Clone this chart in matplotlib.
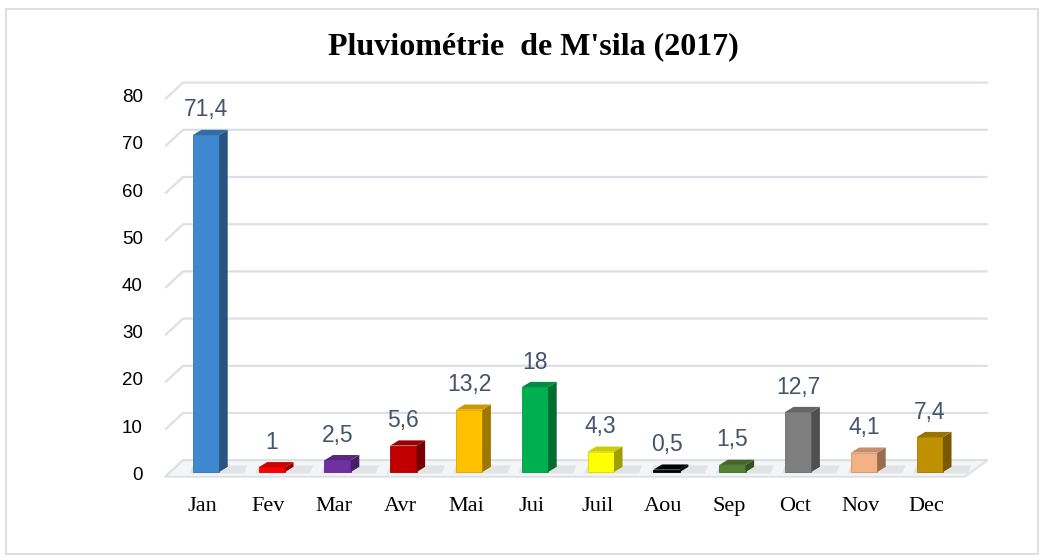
import numpy as np
import matplotlib
matplotlib.use('Agg')
import matplotlib.pyplot as plt
from matplotlib.patches import Polygon, Rectangle
from matplotlib.colors import to_rgb

months = ['Jan', 'Fev', 'Mar', 'Avr', 'Mai', 'Jui', 'Juil', 'Aou', 'Sep', 'Oct', 'Nov', 'Dec']
rain = [71.4, 1, 2.5, 5.6, 13.2, 18, 4.3, 0.5, 1.5, 12.7, 4.1, 7.4]
labels = ['71,4', '1', '2,5', '5,6', '13,2', '18', '4,3', '0,5', '1,5', '12,7', '4,1', '7,4']
colors = ['#3F88CF', '#FF0000', '#7030A0', '#C00000', '#FFC000', '#00B050',
          '#FFFF00', '#000000', '#548235', '#7F7F7F', '#F4B183', '#BF9000']
yticks = [0, 10, 20, 30, 40, 50, 60, 70, 80]

W, H = 1042, 560
fig = plt.figure(figsize=(W / 100, H / 100), dpi=100)
# light frame around the chart
fig.patches.append(Rectangle((6 / W, 6 / H), 1032 / W, 545 / H, transform=fig.transFigure,
                             fill=False, ec='#D9D9D9', lw=1.2))

ax = fig.add_axes([100 / W, 70 / H, 900 / W, 420 / H])
ax.set_xlim(-1.611, 12.067)
ax.set_ylim(-3.81, 85.17)
ax.axis('off')

# pseudo-3D geometry (data units)
wall_dx, wall_dy = 0.27, 3.5      # floor/back-wall depth
front_y = -1.0                    # front edge of the floor
x_left, x_right = -0.62, 11.53
bw = 0.4                          # bar width
bdx, bdy = 0.13, 1.1              # bar depth

# back-wall gridlines with left-wall diagonals
for v in yticks:
    y0 = v + front_y
    ax.plot([x_left, x_left + wall_dx, x_right + wall_dx + 0.08],
            [y0, y0 + wall_dy, y0 + wall_dy], color='#DCE0E6', lw=1.6, zorder=1,
            solid_capstyle='butt')
    ax.text(x_left - 0.34, y0 + 0.3, str(v), ha='right', va='center', fontsize=13.5,
            family='Liberation Sans', color='#000000')

# floor
floor = Polygon([(x_left, front_y), (x_right, front_y),
                 (x_right + wall_dx + 0.08, front_y + wall_dy), (x_left + wall_dx, front_y + wall_dy)],
                closed=True, fc='#F4F5F7', ec='#DCE0E6', lw=1.4, zorder=1.5)
ax.add_patch(floor)

def shade(c, f):
    r, g, b = to_rgb(c)
    return (r * f, g * f, b * f)

for i, (v, c, lab) in enumerate(zip(rain, colors, labels)):
    x0, x1 = i - bw / 2, i + bw / 2
    # soft shadow on the floor
    ax.add_patch(Polygon([(x0 - 0.05, -0.3), (x1 + bdx + 0.25, -0.3),
                          (x1 + bdx + 0.3, bdy + 0.3), (x0, bdy + 0.3)],
                         closed=True, fc='#D5D7DA', ec='none', alpha=0.6, zorder=2))
    ax.add_patch(Rectangle((x0, 0), bw, v, fc=c, ec=shade(c, 0.85), lw=0.6, zorder=3))
    ax.add_patch(Polygon([(x1, 0), (x1 + bdx, bdy), (x1 + bdx, v + bdy), (x1, v)],
                         closed=True, fc=shade(c, 0.62), ec='none', zorder=3))
    ax.add_patch(Polygon([(x0, v), (x1, v), (x1 + bdx, v + bdy), (x0 + bdx, v + bdy)],
                         closed=True, fc=shade(c, 0.8), ec='none', zorder=3))
    ax.text(i, v + 5.3, lab, ha='center', va='center', fontsize=16.5,
            family='Liberation Sans', color='#44546A', zorder=4)
    ax.text(i - 0.05, -7.4, months[i], ha='center', va='center', fontsize=16,
            family='Liberation Serif', color='#000000', clip_on=False)

fig.text(533 / W, 1 - 47 / H, "Pluviométrie  de M'sila (2017)", ha='center', va='center',
         fontsize=23, fontweight='bold', family='Liberation Serif')

fig.savefig('out.png', dpi=100)
